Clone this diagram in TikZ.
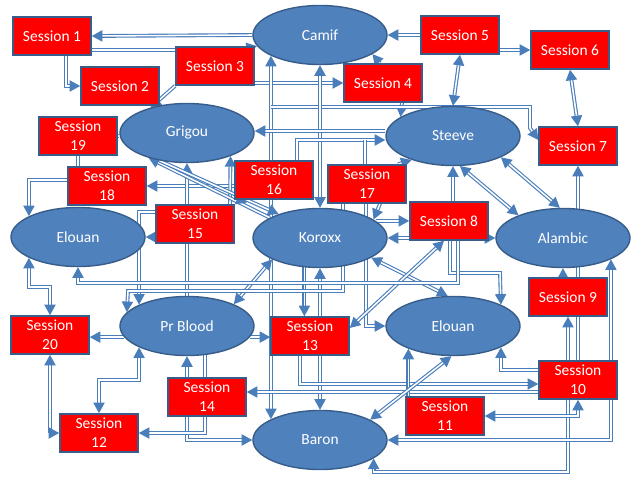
\documentclass[tikz,border=0pt]{standalone}
\usepackage{fontspec}
\setmainfont{Carlito}
\usepackage{tikz}
\usetikzlibrary{shapes.geometric,arrows.meta}
\definecolor{lineblue}{HTML}{4A7EBB}
\definecolor{ellblue}{HTML}{4F81BD}
\definecolor{edgeblue}{HTML}{385D8A}
\pgfdeclarelayer{bg}
\pgfsetlayers{bg,main}
\tikzset{
	pers/.style={ellipse, draw=edgeblue, line width=1pt, fill=ellblue, text=white, inner sep=0pt,
		minimum width=3.35cm, minimum height=1.475cm, font=\fontsize{11}{13.5}\selectfont},
	sess/.style={rectangle, draw=edgeblue, line width=1.1pt, fill=red, text=white, inner sep=1pt, align=center,
		minimum width=1.95cm, minimum height=0.95cm, font=\fontsize{11}{13.5}\selectfont},
	dl/.style={draw=lineblue, line width=0.8pt, double=white, double distance=1.1pt}
}

\begin{document}
\begin{tikzpicture}[x=0.025cm, y=-0.025cm, >={Triangle[length=7.5pt,width=8pt]}]
		\useasboundingbox (0,0) rectangle (640,480);
		
		% people
		\node[pers] (camif) at (320,35) {Camif};
		\node[pers] (grigou) at (187,133) {Grigou};
		\node[pers] (steeve) at (453,136) {Steeve};
		\node[pers] (elouanL) at (78,237) {Elouan};
		\node[pers] (koroxx) at (320,238) {Koroxx};
		\node[pers] (alambic) at (563,238) {Alambic};
		\node[pers] (prblood) at (187,326) {Pr Blood};
		\node[pers] (elouanR) at (453,326) {Elouan};
		\node[pers] (baron) at (320,440) {Baron};
		
		% sessions
		\node[sess] (s1) at (52,36) {Session 1};
		\node[sess] (s2) at (120,86) {Session 2};
		\node[sess] (s3) at (215,66) {Session 3};
		\node[sess] (s4) at (383,83) {Session 4};
		\node[sess] (s5) at (460,35) {Session 5};
		\node[sess] (s6) at (570,50) {Session 6};
		\node[sess] (s7) at (578,146) {Session 7};
		\node[sess] (s8) at (449,221) {Session 8};
		\node[sess] (s9) at (568,297) {Session 9};
		\node[sess] (s10) at (578,380) {Session\\10};
		\node[sess] (s11) at (445,416) {Session\\11};
		\node[sess] (s12) at (99,433) {Session\\12};
		\node[sess] (s13) at (310,336) {Session\\13};
		\node[sess] (s14) at (207,397) {Session\\14};
		\node[sess] (s15) at (195,224) {Session\\15};
		\node[sess] (s16) at (274,180) {Session\\16};
		\node[sess] (s17) at (367,184) {Session\\17};
		\node[sess] (s18) at (107,186) {Session\\18};
		\node[sess] (s19) at (78,136) {Session\\19};
		\node[sess] (s20) at (50,335) {Session\\20};
		
		\begin{pgfonlayer}{bg}
		% top
		\draw[dl,->] (camif.west) -- (s1.east);
		\draw[dl,->] (s1.east |- 0,50) -- (238,50) -- (camif.190);
		\draw[dl,->] (s1.south -| 66,0) |- (s2);
		\draw[dl,->] (s3.south west) -- (grigou.145);
		\draw[dl,->] (s3.east |- 0,83) -- (s4.west |- 0,83);
		\draw[dl,->] (s4.north -| 380,0) -- (camif.-20);
		\draw[dl,->] (s5.west) -- (camif.east);
		\draw[dl,->] (s5.east |- 0,50) -- (s6.west |- 0,50);
		\draw[dl,<->] (s5.south) -- (steeve.north);
		\draw[dl,<->] (s6.south) -- (s7.north);
		\draw[dl,->] (s4.south -| 402,0) -- (steeve.160);
		\draw[dl,<->] (baron.157) -- (camif.203);
		\draw[dl,->] (camif.203 |- 0,107) -- (530,107) -- (530,128) -- (s7.west |- 0,140);
		\draw[dl,->] (camif.203 |- 0,186) -- (s18.east |- 0,186);
		\draw[dl,<->] (camif.south) -- (koroxx.north);
		
		% grigou, steeve
		\draw[dl,->] (steeve.west |- 0,131) -- (grigou.east |- 0,131);
		\draw[dl,->] (s16.north -| 297,0) |- (steeve.west |- 0,140);
		\draw[dl] (s17.north -| 365,0) -- (365,140);
		\draw[dl] (s19.east) -- (grigou.west |- s19.east);
		\draw[dl] (s19.south) -- (s19.south |- s18.north);
		\draw[dl,->] (s18.west |- 0,180) -| (elouanL.157);
		\draw[dl,->] (s15.west |- 0,237) -- (elouanL.east);
		\draw[dl,->] (s15.west |- 0,212) -| (prblood.156);
		\draw[dl,->] (s15.north -| 230,0) -- (grigou.-28);
		\draw[dl,->] (prblood.north) -- (grigou.south);
		\draw[dl,->] (koroxx.158) -- (grigou.213);
		\draw[dl,->] (grigou.225) -- (koroxx.150);
		\draw[dl,->] (s16.south -| 241,0) -- (s15.north east);
		
		% koroxx
		\draw[dl,->] (s17.south -| 380,0) -- (koroxx.19);
		\draw[dl,->] (koroxx.17) -- (koroxx.17 -| s8.west);
		\draw[dl,->] (s8.west |- koroxx.east) -- (koroxx.east);
		\draw[dl,<->] (koroxx.204) -- (prblood.25);
		\draw[dl,->] (koroxx.242) -- (koroxx.242 |- s13.north);
		\draw[dl,->] (s13.north -| koroxx.south) -- (koroxx.south);
		\draw[dl,->] (s13.south -| baron.north) -- (baron.north);
		\draw[dl,<->] (koroxx.-21) -- (elouanR.100);
		\draw[dl,->] (s17.south -| 366,0) |- (elouanR.west);
		\draw[dl,->] (s17.south -| 343,0) |- (128,291) -- (prblood.167);
		
		% session 8
		\draw[dl,<->] (s13.east |- 0,328) -- (s8.south -| 444,0);
		\draw[dl,->] (s8.south -| 450,0) |- (500,273) -- (elouanR.24);
		\draw[dl,->] (s8.south -| 458,0) |- (elouanL.south |- 0,283) -- (elouanL.south);
		\draw[dl,->] (s8.north -| steeve.south) -- (steeve.south);
		\draw[dl,->] (s17.north east -| 398,0) -- (steeve.-150);
		\draw[dl,->] (s8.east |- alambic.west) -- (alambic.west);
		\draw[dl,<->] (steeve.-77) -- (alambic.153);
		\draw[dl,<->] (steeve.-24) -- (alambic.96);
		
		% right side
		\draw[dl,->] (s10.north) -- (s7.south);
		\draw[dl,->] (s9.north -| alambic.south) -- (alambic.south);
		\draw[dl,<->] (baron.-19) -- (baron.-19 |- 0,472) -| (s9.south);
		\draw[dl,<->] (baron.east) -| (alambic.-24);
		\draw[dl,<->] (s10.south) |- (s11.east);
		\draw[dl,->] (s10.west |- 0,370) -| (elouanR.-24);
		\draw[dl,->] (s10.west |- 0,392) -- (s14.east |- 0,392);
		\draw[dl,->] (s13.south -| 300,0) |- (s10.west |- 0,384);
		\draw[dl,->] (s11.north -| elouanR.-153) -- (elouanR.-153);
		\draw[dl,<->] (baron.22) -- (elouanR.-93);
		
		% bottom left
		\draw[dl,->] (s14.south -| 187,0) |- (baron.west);
		\draw[dl,->] (prblood.-58) |- (s12.east);
		\draw[dl,->] (s14.north -| prblood.south) -- (prblood.south);
		\draw[dl,<->] (prblood.204) -- (prblood.204 |- 0,380) -| (s12.north);
		\draw[dl,->] (prblood.190) -- (s20.east |- prblood.190);
		\draw[dl,<->] (s20.south) |- (s12.west);
		\draw[dl,<->] (elouanL.203) |- (s20.north |- 0,287) -- (s20.north);
		\draw[dl,->] (prblood.-10) -- (s13.west |- prblood.-10);
		\end{pgfonlayer}
		
\end{tikzpicture}
\end{document}
